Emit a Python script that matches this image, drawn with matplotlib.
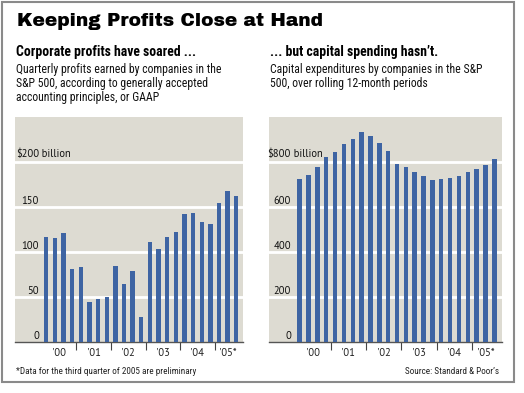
import matplotlib
matplotlib.use("Agg")
import matplotlib.pyplot as plt
from matplotlib.patches import Rectangle

W, H = 524, 393
DPI = 100

profits = [117, 116, 121, 81, 83, 44, 48, 50, 85, 64, 79, 28,
           111, 103, 117, 122, 142, 143, 133, 131, 155, 168, 162]
capex = [724, 744, 778, 825, 847, 880, 904, 935, 917, 884, 849, 793,
         778, 757, 738, 721, 726, 732, 739, 759, 769, 788, 815]
year_labels = ["'00", "'01", "'02", "'03", "'04", "'05*"]
left_yticks = [0, 50, 100, 150, 200]
left_ylabels = ["0", "50", "100", "150", "$200 billion"]
right_yticks = [0, 200, 400, 600, 800]
right_ylabels = ["0", "200", "400", "600", "$800 billion"]

BG = "#dddbd2"
BAR = "#3e64a3"
COND = ["Roboto Condensed", "Liberation Sans", "DejaVu Sans"]
NUMF = ["PT Sans", "Open Sans", "DejaVu Sans"]
TITLEF = ["Archivo Black", "Liberation Sans", "DejaVu Sans"]

fig = plt.figure(figsize=(W / DPI, H / DPI), dpi=DPI)
fig.patch.set_facecolor("white")


def px_axes(x0, y0, x1, y1):
    return fig.add_axes([x0 / W, 1 - y1 / H, (x1 - x0) / W, (y1 - y0) / H])


def ftext(x, y, s, **kw):
    fig.text(x / W, 1 - y / H, s, **kw)


# frame
fig.patches.append(Rectangle((1.5 / W, 1 - 382 / H), 512.5 / W, 380.5 / H,
                             transform=fig.transFigure, fill=False,
                             edgecolor="#8a8a8a", linewidth=1.5))


def panel(ax, values, xlim, ylim, ticks, labels, label_right_x):
    ax.set_facecolor(BG)
    idx = list(range(len(values)))
    ax.bar(idx, values, width=0.5, color=BAR, zorder=3)
    ax.set_xlim(*xlim)
    ax.set_ylim(*ylim)
    for t in ticks[1:]:
        ax.axhline(t, color="white", linewidth=2, zorder=2)
    for s in ax.spines.values():
        s.set_visible(False)
    ax.spines["bottom"].set_visible(True)
    ax.spines["bottom"].set_color("#555555")
    ax.spines["bottom"].set_linewidth(1)
    ax.set_yticks([])
    ax.set_xticks([3.5, 7.5, 11.5, 15.5, 19.5])
    ax.set_xticklabels([])
    ax.tick_params(axis="x", length=6, width=0.8, color="#444444", direction="out")
    centers = [1.5, 5.5, 9.5, 13.5, 17.5, 21]
    for c, lab in zip(centers, year_labels):
        ax.text(c, -0.047, lab, transform=ax.get_xaxis_transform(),
                ha="center", va="center", fontsize=7.6, family=NUMF, color="#222222")
    pxu = (ylim[1] - ylim[0]) / 225.0
    for t, lab in zip(ticks, labels):
        if lab.startswith("$"):
            num, rest = lab.split(" ", 1)
            ax.text(label_right_x, t + 5 * pxu, num, ha="right", va="baseline",
                    fontsize=7.6, family=NUMF, color="#111111", zorder=4)
            ax.text(label_right_x, t + 5 * pxu, " " + rest, ha="left", va="baseline",
                    fontsize=7.6, family=NUMF, color="#111111", zorder=4)
        else:
            ax.text(label_right_x, t + 3 * pxu, lab, ha="right", va="baseline",
                    fontsize=7.6, family=NUMF, color="#111111", zorder=4)


axL = px_axes(15, 117, 243, 342)
panel(axL, profits, (-3.62, 22.78), (0, 250), left_yticks, left_ylabels, -0.85)

axR = px_axes(269, 117, 502, 342)
panel(axR, capex, (-3.47, 22.87), (0, 1002), right_yticks, right_ylabels, -0.98)

# titles and text
ftext(17, 21, "Keeping Profits Close at Hand", fontsize=13.4,
      family=TITLEF, va="center", ha="left")
ftext(16, 52, "Corporate profits have soared ...", fontsize=9.9, fontweight="bold",
      family=COND, va="center", ha="left")
ftext(270, 52, "... but capital spending hasn\u2019t.", fontsize=9.9, fontweight="bold",
      family=COND, va="center", ha="left")
for i, line in enumerate(["Quarterly profits earned by companies in the",
                          "S&P 500, according to generally accepted",
                          "accounting principles, or GAAP"]):
    ftext(16, 70 + 14 * i, line, fontsize=8.45, family=COND, va="center", ha="left",
          color="#111111")
for i, line in enumerate(["Capital expenditures by companies in the S&P",
                          "500, over rolling 12-month periods"]):
    ftext(270, 70 + 14 * i, line, fontsize=8.45, family=COND, va="center", ha="left",
          color="#111111")
ftext(16, 371, "*Data for the third quarter of 2005 are preliminary", fontsize=6.6,
      family=COND, va="center", ha="left", color="#222222")
ftext(499, 371, "Source: Standard & Poor\u2019s", fontsize=6.6,
      family=COND, va="center", ha="right", color="#222222")

fig.savefig("out.png", dpi=DPI)
